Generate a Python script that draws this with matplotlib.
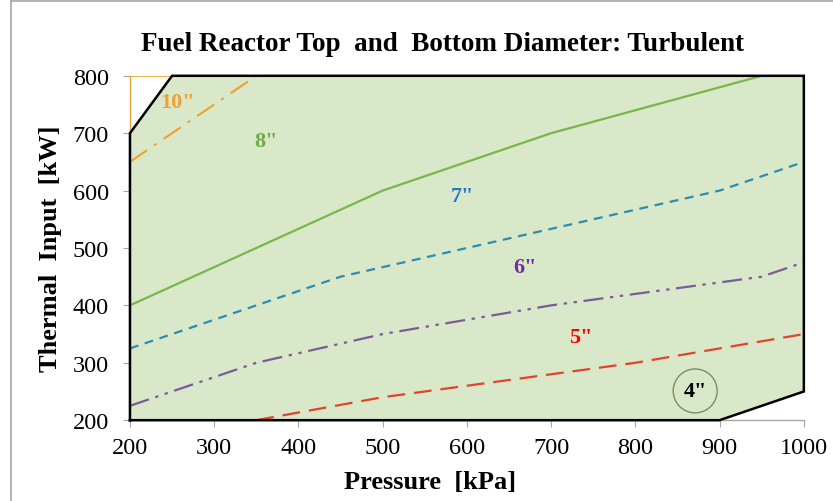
import matplotlib
matplotlib.use("Agg")
import matplotlib.pyplot as plt
from matplotlib.lines import Line2D
from matplotlib.patches import Polygon

plt.rcParams.update({
    "font.family": "Liberation Serif",
    "font.size": 15,
})

# operating envelope (pressure kPa, thermal input kW)
env_p = [200, 200, 250, 1000, 1000, 900]
env_q = [200, 700, 800, 800, 250, 200]

# diameter boundary lines
p_10 = [200, 350]
q_10 = [650, 800]
p_8 = [200, 500, 700, 950]
q_8 = [400, 600, 700, 800]
p_7 = [200, 450, 900, 1000]
q_7 = [325, 450, 600, 650]
p_6 = [200, 350, 500, 700, 800, 950, 1000]
q_6 = [225, 300, 350, 400, 420, 450, 475]
p_5 = [350, 500, 700, 800, 900, 1000]
q_5 = [200, 240, 280, 300, 325, 350]

# region labels
lab_text = ['10"', '8"', '7"', '6"', '5"', '4"']
lab_p = [256, 361, 595, 669, 735, 871]
lab_q = [755, 687, 591, 467, 345, 251]
lab_col = ["#f0a030", "#70ad47", "#1f7ac8", "#7030a0", "#ff0000", "#000000"]

fig = plt.figure(figsize=(8.33, 5.02), dpi=100)
ax = fig.add_axes([0.156, 0.161, 0.809, 0.686])

ax.add_patch(Polygon(list(zip(env_p, env_q)), closed=True,
                     facecolor="#dae8ca", edgecolor="none", zorder=1))

ax.plot(p_10, q_10, color="#eba32a", lw=1.5, dashes=(10, 4, 1.5, 4), zorder=3)
ax.plot([200, 200, 250], [650, 800, 800], color="#eba32a", lw=1.2, zorder=3)
ax.plot(p_8, q_8, color="#7ab648", lw=1.6, zorder=3)
ax.plot(p_7, q_7, color="#2b8cb4", lw=1.6, dashes=(4, 3), zorder=3)
ax.plot(p_6, q_6, color="#7b5a9c", lw=1.6,
        dashes=(9, 3, 1.5, 3, 1.5, 3), zorder=3)
ax.plot(p_5, q_5, color="#e0442c", lw=1.6, dashes=(8, 4), zorder=3)
ax.plot([200, 200], [200, 400], color="#e0442c", lw=1.2, zorder=3)

# black outline of the envelope
ax.plot(env_p + env_p[:1], env_q + env_q[:1], color="black", lw=1.8,
        zorder=4, solid_joinstyle="miter", clip_on=False)

for t, p, q, c in zip(lab_text, lab_p, lab_q, lab_col):
    ax.text(p, q, t, color=c, fontsize=16, fontweight="bold",
            ha="center", va="center", zorder=5)
ax.scatter([lab_p[-1]], [lab_q[-1]], s=1000, facecolors="none",
           edgecolors="#7f8a68", linewidths=1.0, zorder=5)

ax.set_xlim(200, 1000)
ax.set_ylim(200, 800)
ax.set_xticks(range(200, 1001, 100))
ax.set_yticks(range(200, 801, 100))
for s in ["top", "right"]:
    ax.spines[s].set_visible(False)
for s in ["left", "bottom"]:
    ax.spines[s].set_color("#a6a6a6")
    ax.spines[s].set_linewidth(1.0)
ax.tick_params(direction="out", length=5, color="#a6a6a6", labelsize=17.5)
ax.tick_params(axis="x", pad=7)
ax.tick_params(axis="y", pad=10)
ax.set_facecolor("none")

ax.set_xlabel("Pressure  [kPa]", fontsize=19, fontweight="bold", labelpad=2)
ax.xaxis.set_label_coords(0.445, -0.145)
ax.set_ylabel("Thermal  Input  [kW]", fontsize=19, fontweight="bold", labelpad=8)
fig.text(0.531, 0.911, "Fuel Reactor Top  and  Bottom Diameter: Turbulent",
         ha="center", va="center", fontsize=19.5, fontweight="bold")

# chart area frame
fig.add_artist(Line2D([0.013, 0.013], [0.0, 0.996], color="#a6a6a6", lw=1.2))
fig.add_artist(Line2D([0.013, 1.0], [0.996, 0.996], color="#a6a6a6", lw=1.2))

fig.savefig("out.png", dpi=100)
